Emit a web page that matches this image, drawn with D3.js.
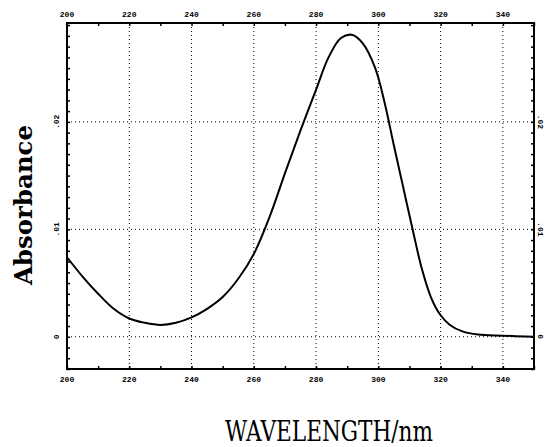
<!DOCTYPE html>
<html>
<head>
<meta charset="utf-8">
<script src="https://cdn.jsdelivr.net/npm/d3@7"></script>
<style>
  body { margin: 0; background: #fff; }
  svg { display: block; }
</style>
</head>
<body>
<svg width="545" height="447"></svg>
<script>
// spectrum
var wavelength = [200, 205, 210, 215, 220, 225, 230, 235, 240, 245, 250, 255, 260,
                  265, 270, 275, 280, 284, 288, 291.5, 295, 299, 302, 305, 308, 311, 314,
                  317, 320, 323, 327, 332, 340, 350];
var absorbance = [0.0074, 0.0056, 0.0040, 0.0026, 0.0017, 0.0013, 0.0011, 0.0013, 0.0018, 0.0026, 0.0037, 0.0054, 0.0077,
                  0.0111, 0.0152, 0.0192, 0.0230, 0.0260, 0.0278, 0.0281, 0.0273, 0.0250, 0.0218, 0.0178, 0.0139, 0.0100, 0.0063,
                  0.0036, 0.0020, 0.0011, 0.0005, 0.0002, 0.0001, 0.0000];

// axis ticks
var xMajor = [200, 220, 240, 260, 280, 300, 320, 340];
var xGrid = [220, 240, 260, 280, 300, 320, 340];
var yMajor = [0, 0.01, 0.02];
var yLabels = ["0", ".01", ".02"];

// plot box (note: "top" is taken by window.top)
var pLeft = 67, pRight = 534, pTop = 23, pBottom = 369;

var x = d3.scaleLinear().domain([200, 350]).range([pLeft, pRight]);
var y = d3.scaleLinear().domain([-0.003, 0.0292]).range([pBottom, pTop]);

var svg = d3.select("svg");

// dotted grid
svg.append("g").selectAll("line")
    .data(xGrid).enter().append("line")
    .attr("x1", d => x(d)).attr("x2", d => x(d))
    .attr("y1", pTop).attr("y2", pBottom)
    .attr("stroke", "#000").attr("stroke-width", 1)
    .attr("stroke-dasharray", "1,3");

svg.append("g").selectAll("line")
    .data(yMajor).enter().append("line")
    .attr("x1", pLeft).attr("x2", pRight)
    .attr("y1", d => y(d)).attr("y2", d => y(d))
    .attr("stroke", "#000").attr("stroke-width", 1)
    .attr("stroke-dasharray", "1,3");

// minor ticks (inward)
var xMinor = d3.range(200, 351, 10);
var yMinor = d3.range(-0.003, 0.0291, 0.001);

svg.append("g")
    .attr("transform", "translate(0," + pBottom + ")")
    .call(d3.axisBottom(x).tickValues(xMinor).tickSize(-3).tickFormat(""))
    .call(g => g.select(".domain").remove());
svg.append("g")
    .attr("transform", "translate(0," + pTop + ")")
    .call(d3.axisTop(x).tickValues(xMinor).tickSize(-3).tickFormat(""))
    .call(g => g.select(".domain").remove());
svg.append("g")
    .attr("transform", "translate(" + pLeft + ",0)")
    .call(d3.axisLeft(y).tickValues(yMinor).tickSize(-3).tickFormat(""))
    .call(g => g.select(".domain").remove());
svg.append("g")
    .attr("transform", "translate(" + pRight + ",0)")
    .call(d3.axisRight(y).tickValues(yMinor).tickSize(-3).tickFormat(""))
    .call(g => g.select(".domain").remove());
svg.selectAll(".tick line").attr("stroke-width", 1.5);

// frame
svg.append("rect")
    .attr("x", pLeft).attr("y", pTop)
    .attr("width", pRight - pLeft).attr("height", pBottom - pTop)
    .attr("fill", "none").attr("stroke", "#000").attr("stroke-width", 2);

// tick labels
var lab = svg.append("g")
    .attr("font-family", "'Liberation Mono', monospace")
    .attr("font-weight", "bold")
    .attr("font-size", 8)
    .attr("fill", "#000");

lab.selectAll(".xb").data(xMajor).enter().append("text")
    .attr("x", d => x(d)).attr("y", 382)
    .attr("text-anchor", "middle")
    .text(d => d);
lab.selectAll(".xt").data(xMajor).enter().append("text")
    .attr("x", d => x(d)).attr("y", 17)
    .attr("text-anchor", "middle")
    .text(d => d);
lab.selectAll(".yl").data(yMajor).enter().append("text")
    .attr("transform", d => "translate(59," + y(d) + ") rotate(-90)")
    .attr("text-anchor", "middle")
    .text((d, i) => yLabels[i]);
lab.selectAll(".yr").data(yMajor).enter().append("text")
    .attr("transform", d => "translate(538," + y(d) + ") rotate(90)")
    .attr("text-anchor", "middle")
    .text((d, i) => yLabels[i]);

// spectrum
var line = d3.line()
    .x((d, i) => x(wavelength[i]))
    .y(d => y(d))
    .curve(d3.curveCatmullRom);

svg.append("path")
    .datum(absorbance)
    .attr("d", line)
    .attr("fill", "none")
    .attr("stroke", "#000")
    .attr("stroke-width", 2);

// axis titles
svg.append("text")
    .attr("transform", "translate(32,205) rotate(-90)")
    .attr("text-anchor", "middle")
    .attr("font-family", "'DejaVu Serif', 'Liberation Serif', serif")
    .attr("font-weight", "bold")
    .attr("font-size", 24)
    .attr("textLength", 160)
    .attr("lengthAdjust", "spacingAndGlyphs")
    .text("Absorbance");

svg.append("text")
    .attr("transform", "translate(329,441) scale(1,1.15)")
    .attr("text-anchor", "middle")
    .attr("font-family", "'DejaVu Serif Condensed', 'DejaVu Serif', serif")
    .attr("font-size", 24)
    .attr("textLength", 208)
    .attr("lengthAdjust", "spacingAndGlyphs")
    .text("WAVELENGTH/nm");
</script>
</body>
</html>
